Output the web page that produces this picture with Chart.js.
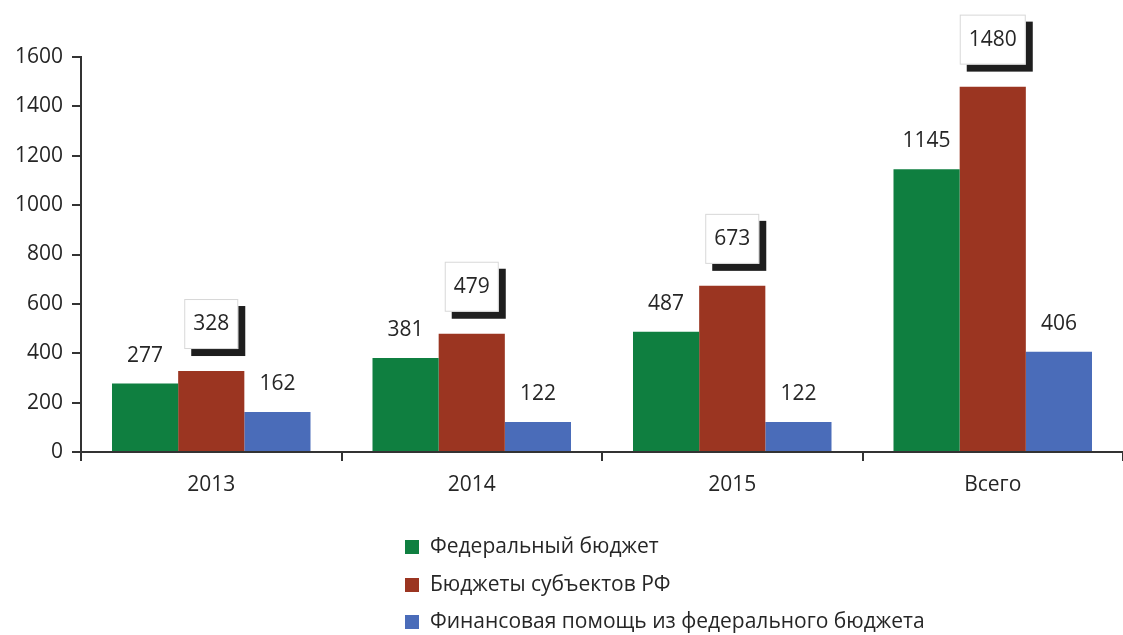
<!DOCTYPE html>
<html>
<head>
<meta charset="utf-8">
<script src="https://cdn.jsdelivr.net/npm/chart.js@4"></script>
<style>
  html, body { margin: 0; padding: 0; background: #fff; }
  #wrap { width: 1123px; height: 635px; }
</style>
</head>
<body>
<div id="wrap"><canvas id="budget-chart"></canvas></div>
<script>
const categories = ['2013', '2014', '2015', 'Всего'];
const federal = [277, 381, 487, 1145];
const regional = [328, 479, 673, 1480];
const finHelp = [162, 122, 122, 406];
const seriesNames = ['Федеральный бюджет', 'Бюджеты субъектов РФ', 'Финансовая помощь из федерального бюджета'];
const seriesColors = ['#0f7f40', '#9b3521', '#4a6cb9'];
const yTicks = [0, 200, 400, 600, 800, 1000, 1200, 1400, 1600];

const FONT = '"Open Sans", "DejaVu Sans", sans-serif';
const TEXT = '#262626';

// value labels above the bars; the middle series gets a box with a drop shadow
const barLabels = {
  id: 'barLabels',
  afterDatasetsDraw(chart) {
    const c = chart.ctx;
    c.save();
    c.font = '21px ' + FONT;
    c.textAlign = 'center';
    c.textBaseline = 'middle';
    chart.data.datasets.forEach((ds, di) => {
      chart.getDatasetMeta(di).data.forEach((bar, i) => {
        const txt = String(ds.data[i]);
        if (di === 1) {
          const w = c.measureText(txt).width + 18;
          const h = 50;
          const bottom = bar.y - 22;
          const left = bar.x - w / 2;
          c.fillStyle = '#1e1e1e';
          c.fillRect(left + 7, bottom - h + 7, w, h);
          c.fillStyle = '#fff';
          c.fillRect(left, bottom - h, w, h);
          c.strokeStyle = '#d8d8d8';
          c.lineWidth = 1;
          c.strokeRect(left + 0.5, bottom - h + 0.5, w - 1, h - 1);
          c.fillStyle = TEXT;
          c.fillText(txt, bar.x, bottom - h / 2);
        } else {
          c.fillStyle = TEXT;
          c.fillText(txt, bar.x, bar.y - 28);
        }
      });
    });
    c.restore();
  }
};

// vertical legend under the chart
const listLegend = {
  id: 'listLegend',
  afterDraw(chart) {
    const c = chart.ctx;
    c.save();
    c.font = '21px ' + FONT;
    c.textBaseline = 'middle';
    c.textAlign = 'left';
    const rows = [547, 585, 622];
    chart.data.datasets.forEach((ds, di) => {
      const y = rows[di];
      c.fillStyle = ds.backgroundColor;
      c.fillRect(405, y - 7, 14, 14);
      c.fillStyle = TEXT;
      c.fillText(ds.label, 430, y);
    });
    c.restore();
  }
};

const datasets = [federal, regional, finHelp].map((data, i) => ({
  label: seriesNames[i],
  data,
  backgroundColor: seriesColors[i],
  borderWidth: 0,
  categoryPercentage: 0.762,
  barPercentage: 1
}));

new Chart(document.getElementById('budget-chart'), {
  type: 'bar',
  data: { labels: categories, datasets },
  options: {
    responsive: true,
    maintainAspectRatio: false,
    animation: false,
    layout: { padding: { top: 57, right: 0, bottom: 0, left: 0 } },
    plugins: {
      legend: { display: false },
      tooltip: { enabled: false }
    },
    scales: {
      x: {
        grid: {
          offset: true,
          drawOnChartArea: false,
          drawTicks: true,
          tickLength: 9,
          color: '#333',
          lineWidth: 2
        },
        border: { color: '#333', width: 2 },
        ticks: { color: TEXT, font: { family: FONT, size: 21 }, padding: 11 },
        afterFit(scale) { scale.height = 183; }
      },
      y: {
        min: 0,
        max: 1600,
        afterBuildTicks(scale) { scale.ticks = yTicks.map(v => ({ value: v })); },
        grid: {
          drawOnChartArea: false,
          drawTicks: true,
          tickLength: 9,
          color: '#333',
          lineWidth: 2
        },
        border: { color: '#333', width: 2 },
        ticks: {
          color: TEXT,
          font: { family: FONT, size: 21 },
          padding: 9,
          callback: v => String(v)
        },
        afterFit(scale) { scale.width = 81; }
      }
    }
  },
  plugins: [barLabels, listLegend]
});
</script>
</body>
</html>
